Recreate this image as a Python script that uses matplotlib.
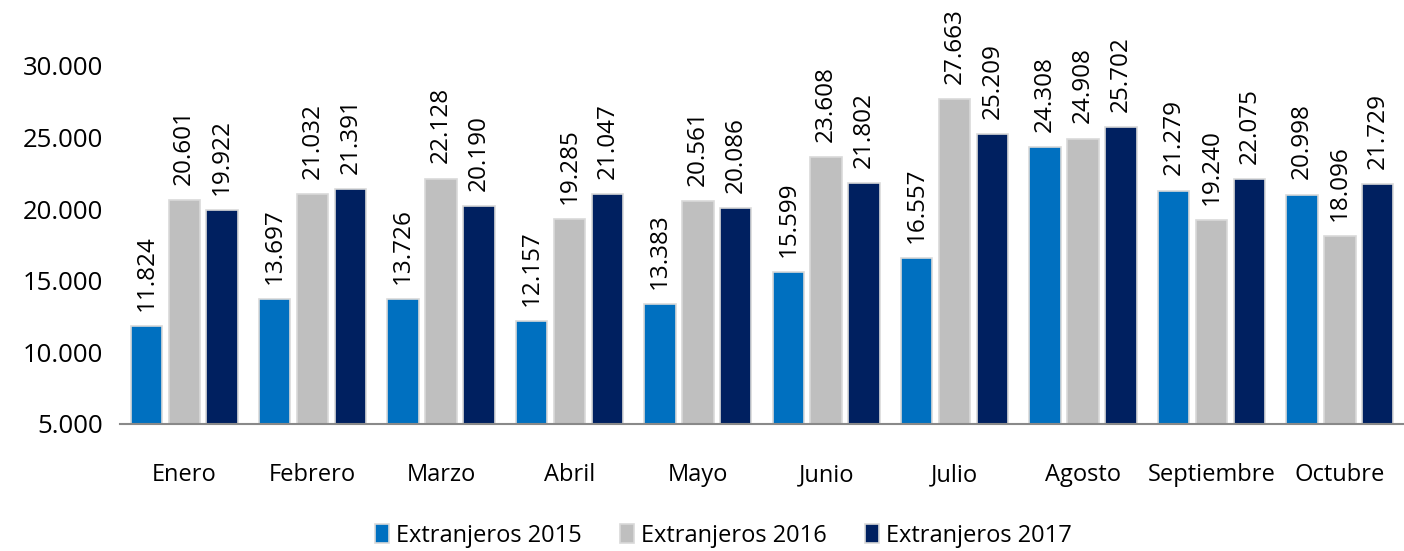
import matplotlib.pyplot as plt
import numpy as np

# Datos
meses = ["Enero", "Febrero", "Marzo", "Abril", "Mayo", "Junio",
         "Julio", "Agosto", "Septiembre", "Octubre"]
ext_2015 = [11824, 13697, 13726, 12157, 13383, 15599, 16557, 24308, 21279, 20998]
ext_2016 = [20601, 21032, 22128, 19285, 20561, 23608, 27663, 24908, 19240, 18096]
ext_2017 = [19922, 21391, 20190, 21047, 20086, 21802, 25209, 25702, 22075, 21729]
series = ["Extranjeros 2015", "Extranjeros 2016", "Extranjeros 2017"]
colores = ["#0070C0", "#BFBFBF", "#002060"]

plt.rcParams['font.family'] = ['Open Sans', 'DejaVu Sans']

fig = plt.figure(figsize=(14.04, 5.51), dpi=100)
ax = fig.add_axes([0.0855, 0.2305, 0.9145, 0.7151])

x = np.arange(len(meses))
ancho = 0.245
paso = 0.295
base = 5000

for i, (vals, nombre, col) in enumerate(zip([ext_2015, ext_2016, ext_2017], series, colores)):
    pos = x + (i - 1) * paso
    alturas = [v - base for v in vals]
    ax.bar(pos, alturas, width=ancho, bottom=base, color=col,
           edgecolor="#D9D9D9", linewidth=1.2, label=nombre)
    for p, v in zip(pos, vals):
        etiqueta = f"{v:,}".replace(",", ".")
        ax.annotate(etiqueta, (p, v), xytext=(0, 11), textcoords="offset points",
                    rotation=90, ha="center", va="bottom", fontsize=17.5,
                    color="#000000")

ax.set_xlim(-0.5, len(meses) - 0.5)
ax.set_ylim(base, 32500)
ax.set_yticks(range(5000, 30001, 5000))
ax.set_yticklabels([f"{t:,}".replace(",", ".") for t in range(5000, 30001, 5000)],
                   fontsize=18.5)
ax.set_xticks(x)
ax.set_xticklabels(meses, fontsize=17)
ax.tick_params(axis="both", length=0)
ax.tick_params(axis="x", pad=28)
ax.tick_params(axis="y", pad=12)

for s in ["top", "right", "left"]:
    ax.spines[s].set_visible(False)
ax.spines["bottom"].set_color("#898989")
ax.spines["bottom"].set_linewidth(1.5)

ax.legend(loc="center", bbox_to_anchor=(0.47, -0.283), ncol=3, frameon=False,
          fontsize=17, handlelength=0.6, handleheight=0.9, handletextpad=0.3,
          columnspacing=1.6)

fig.savefig("out.png", dpi=100)
